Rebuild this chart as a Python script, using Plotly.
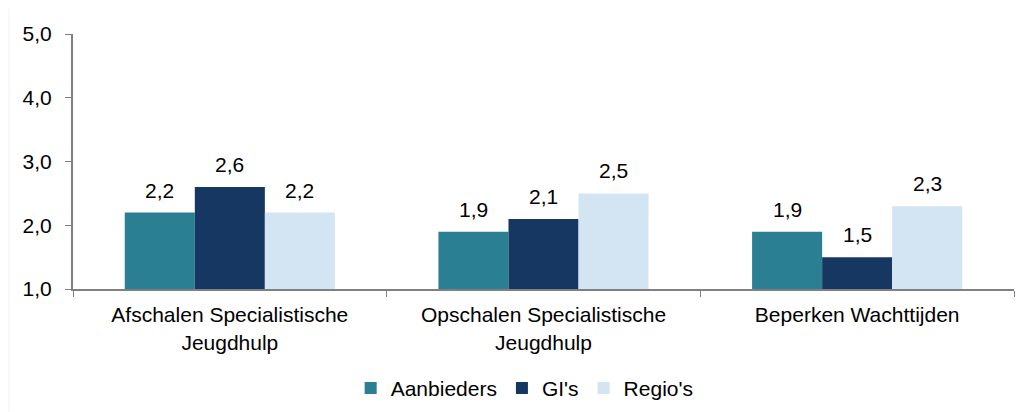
import plotly.graph_objects as go

categories = ["Afschalen Specialistische<br>Jeugdhulp",
              "Opschalen Specialistische<br>Jeugdhulp",
              "Beperken Wachttijden"]
series_names = ["Aanbieders", "GI's", "Regio's"]
aanbieders = [2.2, 1.9, 1.9]
gis = [2.6, 2.1, 1.5]
regios = [2.2, 2.5, 2.3]
y_ticks = [1, 2, 3, 4, 5]

colors = ["#2a7f92", "#173763", "#d3e5f3"]
font = dict(family="Liberation Sans, Arial, sans-serif", size=21, color="#000000")

fig = go.Figure()
values = [aanbieders, gis, regios]
for name, vals, col in zip(series_names, values, colors):
    fig.add_trace(go.Bar(x=categories, y=vals, name=name, marker_color=col,
                         marker_line_width=0))

# value labels above bars
bar_px = 70
for i, vals in enumerate(values):
    for cat, v in zip(categories, vals):
        fig.add_annotation(x=cat, y=v, text=f"{v:.1f}".replace(".", ","),
                           showarrow=False, xshift=(i - 1) * bar_px,
                           yanchor="bottom", yshift=9, font=font)

# page body adds 8px, so the figure is a bit smaller than the window
fig.update_layout(
    width=1015, height=404,
    margin=dict(l=65, r=9, t=26, b=123, autoexpand=False),
    paper_bgcolor="white", plot_bgcolor="white",
    barmode="group", bargap=0.33, bargroupgap=0,
    separators=",.",
    font=font,
    showlegend=True,
    legend=dict(orientation="h", x=0.48, xanchor="center", y=-0.39, yanchor="middle",
                font=font, itemwidth=30, traceorder="normal"),
    shapes=[dict(type="line", xref="paper", yref="paper", x0=-0.068, x1=-0.068,
                 y0=-0.48, y1=1.1, line=dict(color="#f0f0f0", width=1))],
)
fig.update_yaxes(range=[1, 5], tickvals=y_ticks, tickformat=".1f",
                 showgrid=False, showline=True, linecolor="#808080", linewidth=2,
                 ticks="outside", ticklen=6, tickcolor="#808080", tickwidth=1,
                 zeroline=False, tickfont=font, automargin=False,
                 ticklabelstandoff=9)
fig.update_xaxes(showgrid=False, showline=True, linecolor="#808080", linewidth=2,
                 ticks="outside", tickson="boundaries", ticklen=6,
                 tickcolor="#808080", tickwidth=1, tickfont=font, automargin=False,
                 ticklabelstandoff=6)

fig.write_html("out.html")
